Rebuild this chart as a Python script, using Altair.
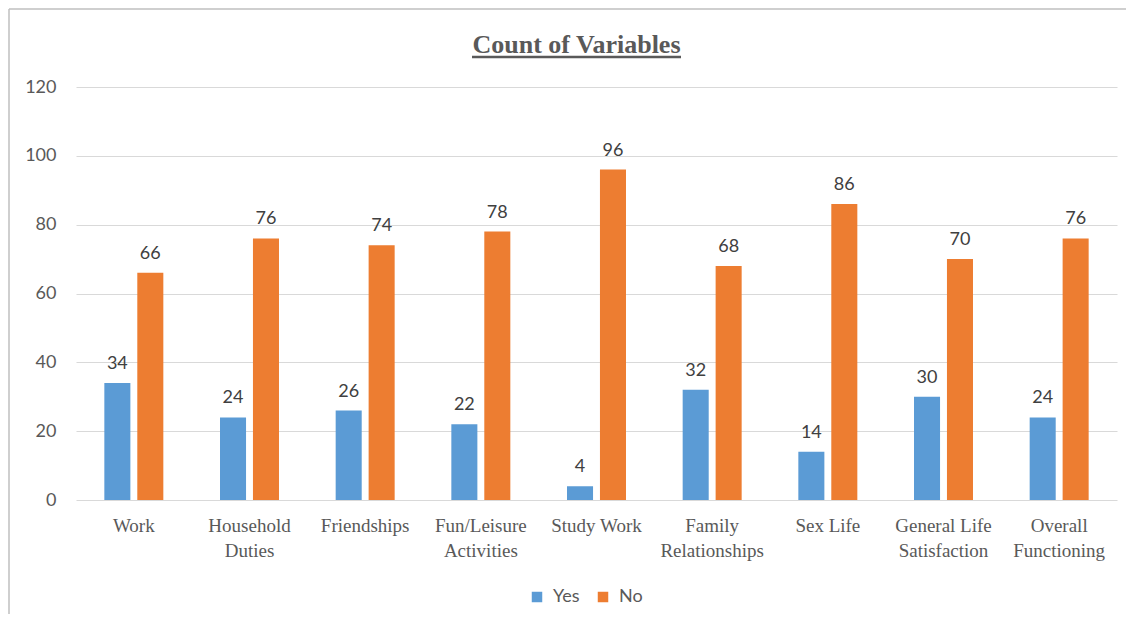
import altair as alt
import pandas as pd

categories = ["Work", "Household Duties", "Friendships", "Fun/Leisure Activities",
              "Study Work", "Family Relationships", "Sex Life",
              "General Life Satisfaction", "Overall Functioning"]
label_lines = [["Work"], ["Household", "Duties"], ["Friendships"], ["Fun/Leisure", "Activities"],
               ["Study Work"], ["Family", "Relationships"], ["Sex Life"],
               ["General Life", "Satisfaction"], ["Overall", "Functioning"]]
series = ["Yes", "No"]
yes_values = [34, 24, 26, 22, 4, 32, 14, 30, 24]
no_values = [66, 76, 74, 78, 96, 68, 86, 70, 76]
y_ticks = [0, 20, 40, 60, 80, 100, 120]
colors = ["#5B9BD5", "#ED7D31"]
title_text = "Count of Variables"

rows = []
for c, y, n in zip(categories, yes_values, no_values):
    rows.append({"Category": c, "Series": "Yes", "Count": y})
    rows.append({"Category": c, "Series": "No", "Count": n})
df = pd.DataFrame(rows)

# label expression for wrapped axis labels
expr = "[datum.value]"
for c, lines in zip(categories, label_lines):
    arr = "[" + ",".join("'" + l + "'" for l in lines) + "]"
    expr = f"datum.value == '{c}' ? {arr} : ({expr})"

SANS = "Lato"
SERIF = "Liberation Serif"
GRAY = "#595959"

x = alt.X("Category:N", sort=categories, title=None,
          scale=alt.Scale(paddingInner=0.49, paddingOuter=0.245),
          axis=alt.Axis(labelAngle=0, labelFont=SERIF, labelFontSize=19, labelColor=GRAY,
                        labelExpr=expr, labelLineHeight=25, labelPadding=16,
                        ticks=False, domain=False, labelLimit=200, grid=False))
xoff = alt.XOffset("Series:N", sort=series, scale=alt.Scale(paddingInner=0.21, paddingOuter=0))
y = alt.Y("Count:Q", title=None,
          scale=alt.Scale(domain=[0, 120], nice=False),
          axis=alt.Axis(values=y_ticks, labelFont=SANS, labelFontSize=18, labelColor=GRAY,
                        labelPadding=20, ticks=False, domain=False,
                        gridColor="#D9D9D9", gridWidth=1))
color = alt.Color("Series:N", sort=series,
                  scale=alt.Scale(domain=series, range=colors),
                  legend=alt.Legend(title=None, orient="none", direction="horizontal",
                                    legendX=452, legendY=501,
                                    symbolType="square", symbolSize=110, symbolStrokeWidth=0,
                                    labelFont=SANS, labelFontSize=18, labelColor=GRAY,
                                    labelOffset=7, columnPadding=14))

base = alt.Chart(df)
bars = base.mark_bar().encode(x=x, xOffset=xoff, y=y, color=color)
labels = base.mark_text(font=SANS, fontSize=18, color="#404040", baseline="alphabetic", dy=-14).encode(
    x=alt.X("Category:N", sort=categories), xOffset=alt.XOffset("Series:N", sort=series),
    y="Count:Q", text="Count:Q")

deco = pd.DataFrame({"k": [0]})
title = alt.Chart(deco).mark_text(font=SERIF, fontSize=26, fontWeight="bold", color=GRAY,
                                  baseline="alphabetic", align="center").encode(
    x=alt.value(500.5), y=alt.value(-34), text=alt.value(title_text))
underline = alt.Chart(deco).mark_rule(color=GRAY, strokeWidth=2.5).encode(
    x=alt.value(396), x2=alt.value(605), y=alt.value(-30))
frame_left = alt.Chart(deco).mark_rule(color="#BFBFBF", strokeWidth=1.5).encode(
    x=alt.value(-67), y=alt.value(-78), y2=alt.value(530))
frame_top = alt.Chart(deco).mark_rule(color="#BFBFBF", strokeWidth=1.5).encode(
    x=alt.value(-67), x2=alt.value(1060), y=alt.value(-78))

chart = alt.layer(frame_left, frame_top, bars, labels, title, underline).properties(
    width=1041, height=413,
    background="white",
    autosize=alt.AutoSizeParams(type="none"),
    padding={"left": 68, "top": 79, "right": 9, "bottom": 114},
).configure_view(stroke="transparent", strokeWidth=0)

chart.save("out.html", embed_options={"renderer": "svg", "actions": False})
